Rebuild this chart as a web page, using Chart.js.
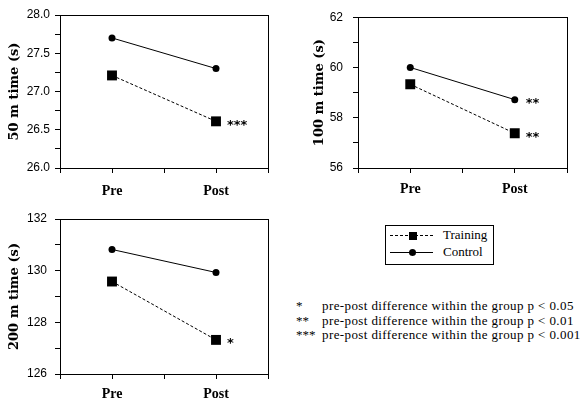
<!DOCTYPE html>
<html>
<head>
<meta charset="utf-8">
<script src="https://cdn.jsdelivr.net/npm/chart.js@4.4.0/dist/chart.umd.min.js"></script>
<style>
  body { margin: 0; width: 583px; height: 400px; background: #fff; position: relative; overflow: hidden; }
  canvas { position: absolute; }
  #c50 { left: 0; top: 0; }
  #c100 { left: 290px; top: 0; }
  #c200 { left: 0; top: 200px; }
  #legend { position: absolute; left: 385px; top: 225px; width: 107px; height: 38px; border: 1px solid #000;
            font: 13px "Liberation Serif", serif; color: #000; }
  .row { position: absolute; left: 0; height: 16px; width: 100%; }
  .sample { position: absolute; left: 4px; top: 8px; width: 43px; height: 0; }
  .mark { position: absolute; left: 23px; background: #000; }
  .lbl { position: absolute; left: 57px; top: 0; line-height: 16px; }
  .note { position: absolute; font: 13px "Liberation Serif", serif; color: #000; line-height: 14px; white-space: nowrap; }
  .txt { letter-spacing: 0.4px; }
</style>
</head>
<body>
<canvas id="c50" width="290" height="200"></canvas>
<canvas id="c100" width="293" height="200"></canvas>
<canvas id="c200" width="290" height="200"></canvas>
<div id="legend"></div>
<div id="notes"></div>
<script>
// categories sit at x = 1 and x = 3 on a 0..4 axis
const categories = ['Pre', 'Post'];
const categoryPos = [1, 3];
const seriesNames = ['Training', 'Control'];

const training50 = [27.21, 26.61];
const control50 = [27.70, 27.30];
const training100 = [59.33, 57.38];
const control100 = [60.00, 58.72];
const training200 = [129.58, 127.32];
const control200 = [130.82, 129.93];

// significance marks next to the Post points
const trainingSig50 = ['', '***'];
const controlSig50 = ['', ''];
const trainingSig100 = ['', '**'];
const controlSig100 = ['', '**'];
const trainingSig200 = ['', '*'];
const controlSig200 = ['', ''];

const yTitles = ['50 m time (s)', '100 m time (s)', '200 m time (s)'];
const noteStars = ['*', '**', '***'];
const noteTexts = [
    'pre-post difference within the group p < 0.05',
    'pre-post difference within the group p < 0.01',
    'pre-post difference within the group p < 0.001'
];

// box around the plot area
const frameBox = {
    id: 'frameBox',
    afterDraw(chart) {
        const { ctx, chartArea: a } = chart;
        ctx.save();
        ctx.strokeStyle = '#000';
        ctx.lineWidth = 1;
        ctx.strokeRect(Math.round(a.left) + 0.5, Math.round(a.top) + 0.5,
            Math.round(a.right - a.left), Math.round(a.bottom - a.top));
        ctx.restore();
    }
};

// star labels to the right of points
const sigMarks = {
    id: 'sigMarks',
    afterDatasetsDraw(chart) {
        const ctx = chart.ctx;
        ctx.save();
        ctx.font = 'bold 13px "DejaVu Sans"';
        ctx.fillStyle = '#000';
        ctx.textBaseline = 'middle';
        chart.data.datasets.forEach((ds, i) => {
            const meta = chart.getDatasetMeta(i);
            (ds.sig || []).forEach((s, j) => {
                if (!s) return;
                const pt = meta.data[j];
                ctx.fillText(s, pt.x + 11, pt.y + 4);
            });
        });
        ctx.restore();
    }
};

function toPoints(values) {
    return values.map((v, i) => ({ x: categoryPos[i], y: v }));
}

function makePanel(id, title, training, control, trainingSig, controlSig, opt) {
    const ctx = document.getElementById(id).getContext('2d');
    new Chart(ctx, {
        type: 'line',
        data: {
            datasets: [
                {
                    label: seriesNames[0],
                    data: toPoints(training),
                    sig: trainingSig,
                    borderColor: '#000',
                    backgroundColor: '#000',
                    borderWidth: 1,
                    borderDash: [3, 2],
                    pointStyle: 'rect',
                    pointRadius: 7,
                    pointBorderWidth: 0
                },
                {
                    label: seriesNames[1],
                    data: toPoints(control),
                    sig: controlSig,
                    borderColor: '#000',
                    backgroundColor: '#000',
                    borderWidth: 1,
                    pointStyle: 'circle',
                    pointRadius: 3.5,
                    pointBorderWidth: 0
                }
            ]
        },
        options: {
            responsive: false,
            animation: false,
            layout: { padding: { top: opt.top, right: opt.right, left: 0, bottom: 0 } },
            plugins: { legend: { display: false }, tooltip: { enabled: false } },
            scales: {
                x: {
                    type: 'linear',
                    min: 0,
                    max: 4,
                    afterFit: s => { s.height = opt.xHeight; },
                    border: { color: '#000', width: 1 },
                    grid: { drawOnChartArea: false, drawTicks: true, tickLength: 5, color: '#000' },
                    ticks: {
                        stepSize: 1,
                        autoSkip: false,
                        maxRotation: 0,
                        padding: opt.xPad,
                        color: '#000',
                        font: { family: 'Liberation Serif', weight: 'bold', size: 14 },
                        callback: v => {
                            const k = categoryPos.indexOf(v);
                            return k >= 0 ? categories[k] : '';
                        }
                    }
                },
                y: {
                    min: opt.min,
                    max: opt.max,
                    afterFit: s => { s.width = opt.yWidth; },
                    border: { color: '#000', width: 1 },
                    grid: { drawOnChartArea: false, drawTicks: true, tickLength: 5, color: '#000' },
                    title: {
                        display: true,
                        text: title,
                        color: '#000',
                        padding: { top: opt.titlePad, bottom: 0 },
                        font: { family: 'DejaVu Serif', weight: 'bold', size: 13 }
                    },
                    ticks: {
                        stepSize: opt.step,
                        autoSkip: false,
                        padding: opt.yPad,
                        color: '#000',
                        font: { family: 'Liberation Sans', size: 12 },
                        callback: v => {
                            const r = Math.round(v / opt.labelStep * 1000) / 1000;
                            if (Math.abs(r - Math.round(r)) > 1e-6) return '';
                            return v.toFixed(opt.digits);
                        }
                    }
                }
            }
        },
        plugins: [frameBox, sigMarks]
    });
}

makePanel('c50', yTitles[0], training50, control50, trainingSig50, controlSig50,
    { min: 26, max: 28, step: 0.25, labelStep: 0.5, digits: 1, top: 15, right: 22, xHeight: 32,
      yWidth: 60, titlePad: 7, yPad: 5, xPad: 10 });
makePanel('c100', yTitles[1], training100, control100, trainingSig100, controlSig100,
    { min: 56, max: 62, step: 1, labelStep: 2, digits: 0, top: 15, right: 16, xHeight: 32,
      yWidth: 68, titlePad: 22, yPad: 10, xPad: 8 });
makePanel('c200', yTitles[2], training200, control200, trainingSig200, controlSig200,
    { min: 126, max: 132, step: 1, labelStep: 2, digits: 0, top: 19, right: 22, xHeight: 26,
      yWidth: 60, titlePad: 7, yPad: 8, xPad: 7 });

// legend box
const legend = document.getElementById('legend');
seriesNames.forEach((name, i) => {
    const row = document.createElement('div');
    row.className = 'row';
    row.style.top = (i === 0 ? 1 : 18) + 'px';
    const line = document.createElement('div');
    line.className = 'sample';
    line.style.borderTop = i === 0 ? '1px dashed #000' : '1px solid #000';
    const mark = document.createElement('div');
    mark.className = 'mark';
    if (i === 0) {
        mark.style.cssText += 'width:8px;height:8px;top:-4px;left:19px;';
    } else {
        mark.style.cssText += 'width:7px;height:7px;top:-4px;left:19px;border-radius:50%;';
    }
    line.appendChild(mark);
    const lbl = document.createElement('div');
    lbl.className = 'lbl';
    lbl.textContent = name;
    row.appendChild(line);
    row.appendChild(lbl);
    legend.appendChild(row);
});

// footnotes
const notes = document.getElementById('notes');
noteTexts.forEach((t, i) => {
    const star = document.createElement('div');
    star.className = 'note';
    star.style.left = '296px';
    star.style.top = (299 + i * 14.5) + 'px';
    star.textContent = noteStars[i];
    const txt = document.createElement('div');
    txt.className = 'note txt';
    txt.style.left = '322px';
    txt.style.top = (299 + i * 14.5) + 'px';
    txt.textContent = t;
    notes.appendChild(star);
    notes.appendChild(txt);
});
</script>
</body>
</html>
